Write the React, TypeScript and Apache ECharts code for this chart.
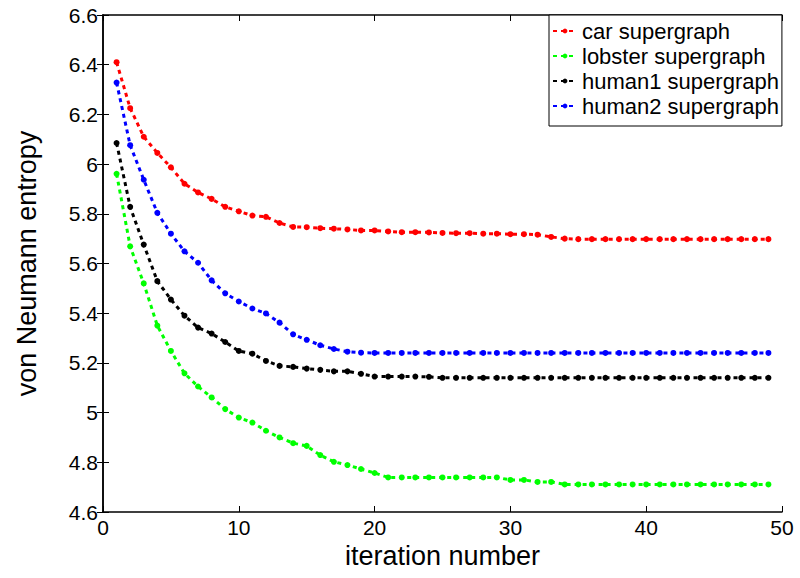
import React, { useEffect, useRef } from "react";
import * as echarts from "echarts";

const iterations = [1, 2, 3, 4, 5, 6, 7, 8, 9, 10, 11, 12, 13, 14, 15, 16, 17, 18, 19, 20, 21, 22, 23, 24, 25, 26, 27, 28, 29, 30, 31, 32, 33, 34, 35, 36, 37, 38, 39, 40, 41, 42, 43, 44, 45, 46, 47, 48, 49];

const carValues = [6.41, 6.225, 6.11, 6.045, 5.987, 5.921, 5.886, 5.86, 5.828, 5.81, 5.793, 5.788, 5.763, 5.747, 5.746, 5.742, 5.74, 5.737, 5.733, 5.733, 5.729, 5.726, 5.726, 5.725, 5.723, 5.722, 5.722, 5.72, 5.72, 5.718, 5.718, 5.716, 5.707, 5.7, 5.698, 5.698, 5.698, 5.698, 5.698, 5.698, 5.698, 5.698, 5.698, 5.698, 5.698, 5.698, 5.698, 5.698, 5.698];

const lobsterValues = [5.961, 5.669, 5.52, 5.35, 5.248, 5.158, 5.105, 5.061, 5.014, 4.98, 4.96, 4.927, 4.9, 4.877, 4.866, 4.829, 4.802, 4.789, 4.773, 4.757, 4.739, 4.739, 4.739, 4.739, 4.739, 4.739, 4.739, 4.739, 4.739, 4.729, 4.729, 4.721, 4.721, 4.711, 4.711, 4.711, 4.711, 4.711, 4.711, 4.711, 4.711, 4.711, 4.711, 4.711, 4.711, 4.711, 4.711, 4.711, 4.711];

const human1Values = [6.085, 5.828, 5.676, 5.529, 5.455, 5.39, 5.342, 5.318, 5.284, 5.248, 5.237, 5.208, 5.188, 5.184, 5.177, 5.172, 5.166, 5.166, 5.156, 5.145, 5.145, 5.145, 5.145, 5.144, 5.14, 5.14, 5.14, 5.14, 5.14, 5.14, 5.14, 5.14, 5.14, 5.14, 5.14, 5.14, 5.14, 5.14, 5.14, 5.14, 5.14, 5.14, 5.14, 5.14, 5.14, 5.14, 5.14, 5.14, 5.14];

const human2Values = [6.328, 6.076, 5.937, 5.804, 5.72, 5.649, 5.603, 5.532, 5.48, 5.447, 5.419, 5.399, 5.362, 5.315, 5.293, 5.271, 5.256, 5.245, 5.241, 5.24, 5.24, 5.24, 5.24, 5.24, 5.24, 5.24, 5.24, 5.24, 5.24, 5.24, 5.24, 5.24, 5.24, 5.24, 5.24, 5.24, 5.24, 5.24, 5.24, 5.24, 5.24, 5.24, 5.24, 5.24, 5.24, 5.24, 5.24, 5.24, 5.24];

const seriesNames = ["car supergraph", "lobster supergraph", "human1 supergraph", "human2 supergraph"];
const seriesColors = ["#ff0000", "#00ff00", "#000000", "#0000ff"];
const seriesValues = [carValues, lobsterValues, human1Values, human2Values];

const FONT = "'Liberation Sans', Arial, Helvetica, sans-serif";

export default function App() {
  const ref = useRef<HTMLDivElement>(null);
  useEffect(() => {
    if (!ref.current) return;
    const chart = echarts.init(ref.current, null, { renderer: "svg" });
    const axisLine = { show: true, lineStyle: { color: "#000", width: 1.5 } };
    const tick = { show: true, inside: true, length: 6, lineStyle: { color: "#000", width: 1 } };
    chart.setOption({
      animation: false,
      backgroundColor: "#fff",
      textStyle: { fontFamily: FONT },
      grid: { left: 103, right: 18, top: 15, bottom: 66, containLabel: false },
      legend: {
        orient: "vertical",
        left: 549,
        top: 15,
        padding: [5, 3, 9, 3],
        itemGap: 3,
        itemWidth: 24,
        itemHeight: 6,
        backgroundColor: "#fff",
        borderColor: "#000",
        borderWidth: 1,
        borderRadius: 0,
        textStyle: { fontFamily: FONT, fontSize: 22, color: "#000", lineHeight: 22 },
        data: seriesNames,
      },
      xAxis: [
        {
          type: "value",
          min: 0,
          max: 50,
          interval: 10,
          position: "bottom",
          name: "iteration number",
          nameLocation: "middle",
          nameGap: 30,
          nameTextStyle: { fontFamily: FONT, fontSize: 27, color: "#000" },
          axisLine,
          axisTick: tick,
          axisLabel: { fontFamily: FONT, fontSize: 21, color: "#000", margin: 5 },
          splitLine: { show: false },
        },
        {
          type: "value",
          min: 0,
          max: 50,
          interval: 10,
          position: "top",
          axisLine,
          axisTick: tick,
          axisLabel: { show: false },
          splitLine: { show: false },
        },
      ],
      yAxis: [
        {
          type: "value",
          min: 4.6,
          max: 6.6,
          interval: 0.2,
          position: "left",
          name: "von Neumann entropy",
          nameLocation: "middle",
          nameGap: 63,
          nameTextStyle: { fontFamily: FONT, fontSize: 27, color: "#000" },
          axisLine,
          axisTick: tick,
          axisLabel: {
            fontFamily: FONT,
            fontSize: 21,
            color: "#000",
            margin: 5,
            formatter: (v: number) => String(parseFloat(v.toFixed(1))),
          },
          splitLine: { show: false },
        },
        {
          type: "value",
          min: 4.6,
          max: 6.6,
          interval: 0.2,
          position: "right",
          axisLine,
          axisTick: tick,
          axisLabel: { show: false },
          splitLine: { show: false },
        },
      ],
      series: seriesNames.map((name, i) => ({
        name,
        type: "line",
        xAxisIndex: 0,
        yAxisIndex: 0,
        data: iterations.map((x, j) => [x, seriesValues[i][j]]),
        symbol: "circle",
        symbolSize: 6,
        showSymbol: true,
        itemStyle: { color: seriesColors[i] },
        lineStyle: { color: seriesColors[i], width: 3, type: [4, 4] },
        z: 3 + i,
      })),
    });
    return () => chart.dispose();
  }, []);
  return <div ref={ref} style={{ width: 800, height: 578, position: "absolute", left: 0, top: 0 }} />;
}
